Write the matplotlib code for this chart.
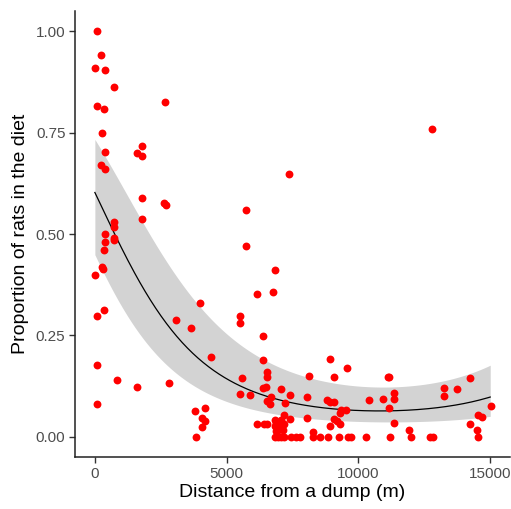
import numpy as np
import matplotlib
matplotlib.use("Agg")
import matplotlib.pyplot as plt

plt.rcParams['font.family'] = ['Liberation Sans', 'DejaVu Sans']

# observed points: distance to dump (m) and proportion of rats in diet
dist = [91, 243, 0, 380, 711, 2678, 76, 331, 281, 1788, 380, 1598, 1803, 228, 380,
        1788, 2625, 2690, 1788, 723, 723, 380, 723, 723, 380, 331, 293, 280, 0, 331,
        91, 3070, 91, 825, 1598, 2815, 91,
        7356, 5744, 5744, 6824, 6139, 6771, 3994, 5504, 5504, 3652, 6379, 4389, 6379,
        6531, 6531, 5591, 6379, 6493, 5504, 5896, 7063, 6683, 6531, 6632, 7215, 7406,
        4184, 3792, 4047, 4184, 4047, 3842, 6139, 6405, 6531, 6874, 7166, 6874, 7063,
        6937, 7166, 6824, 7052, 6847, 7090, 7189, 6961, 7128, 6824, 7052, 7406,
        8915, 9548, 8140, 9068, 11133, 8041, 8825, 8915, 9068, 10384, 10917, 9346,
        9510, 9296, 8041, 9068, 9194, 9308, 8940, 8270, 8293, 7456, 7646, 7786, 8558,
        8840, 9281, 9600, 9700, 10297,
        12807, 11146, 14226, 13252, 13252, 13747, 11350, 11350, 11146, 15013, 14519,
        14671, 11350, 14226, 11906, 14480, 11209, 11982, 12720, 12842, 14519]
prop = [1.00, 0.943, 0.911, 0.905, 0.864, 0.826, 0.816, 0.809, 0.749, 0.718, 0.702, 0.699, 0.692, 0.671, 0.661,
        0.588, 0.576, 0.572, 0.537, 0.529, 0.517, 0.500, 0.491, 0.485, 0.481, 0.461, 0.413, 0.420, 0.398, 0.312,
        0.297, 0.287, 0.176, 0.141, 0.122, 0.132, 0.081,
        0.649, 0.560, 0.471, 0.411, 0.353, 0.357, 0.331, 0.298, 0.280, 0.268, 0.249, 0.198, 0.189,
        0.161, 0.147, 0.145, 0.121, 0.122, 0.106, 0.104, 0.117, 0.097, 0.088, 0.081, 0.083, 0.104,
        0.072, 0.063, 0.047, 0.040, 0.025, 0.0, 0.031, 0.031, 0.031, 0.035, 0.053, 0.015, 0.027,
        0.0, 0.0, 0.042, 0.042, 0.027, 0.027, 0.031, 0.017, 0.017, 0.0, 0.0, 0.044,
        0.192, 0.169, 0.151, 0.148, 0.148, 0.097, 0.090, 0.085, 0.086, 0.091, 0.094, 0.066,
        0.067, 0.059, 0.047, 0.044, 0.039, 0.031, 0.026, 0.012, 0.0, 0.0, 0.0, 0.0, 0.0,
        0.0, 0.0, 0.0, 0.0, 0.0,
        0.760, 0.148, 0.145, 0.121, 0.101, 0.119, 0.107, 0.094, 0.072, 0.075, 0.053,
        0.049, 0.034, 0.031, 0.016, 0.016, 0.0, 0.0, 0.0, 0.0, 0.0]

# fitted curve and confidence band
fit_x = [0, 723, 1993, 3260, 5035, 6177, 7063, 8965, 10232, 10867, 12134, 13403, 15013]
fit_p = [0.605, 0.491, 0.36, 0.237, 0.142, 0.107, 0.093, 0.068, 0.063, 0.062, 0.067, 0.079, 0.097]
upper_x = [0, 1993, 3200, 4526, 5794, 7063, 8330, 9600, 10867, 12134, 13403, 15000]
upper_p = [0.736, 0.512, 0.37, 0.282, 0.224, 0.175, 0.142, 0.126, 0.118, 0.126, 0.146, 0.175]
lower_x = [0, 723, 1864, 3260, 5000, 6300, 8000, 10000, 11500, 13400, 15000]
lower_p = [0.445, 0.365, 0.235, 0.145, 0.09, 0.063, 0.046, 0.038, 0.036, 0.042, 0.05]


def logit(p):
    p = np.asarray(p)
    return np.log(p / (1 - p))


def smooth(xs, ps, grid, deg):
    coef = np.polyfit(np.array(xs) / 1000.0, logit(ps), deg)
    z = np.polyval(coef, grid / 1000.0)
    return 1 / (1 + np.exp(-z))


grid = np.linspace(0, 15000, 300)
fit = smooth(fit_x, fit_p, grid, 2)
up = smooth(upper_x, upper_p, grid, 3)
lo = smooth(lower_x, lower_p, grid, 3)

fig = plt.figure(figsize=(5.11, 5.09), dpi=100)
ax = fig.add_axes([0.147, 0.102, 0.851, 0.876])

ax.fill_between(grid, lo, up, color='#D3D3D3', lw=0, zorder=1)
ax.plot(grid, fit, color='black', lw=0.9, zorder=2)
ax.scatter(dist, prop, s=32, color='red', lw=0, zorder=3)

ax.set_xlim(-750, 15750)
ax.set_ylim(-0.05, 1.05)
ax.set_xticks([0, 5000, 10000, 15000])
ax.set_yticks([0, 0.25, 0.5, 0.75, 1.0])
ax.set_yticklabels(['0.00', '0.25', '0.50', '0.75', '1.00'])

for s in ['top', 'right']:
    ax.spines[s].set_visible(False)
for s in ['left', 'bottom']:
    ax.spines[s].set_color('#222222')
    ax.spines[s].set_linewidth(1.1)
ax.tick_params(colors='#333333', labelcolor='#4D4D4D', labelsize=11, length=4, width=1, pad=3)

ax.set_xlabel('Distance from a dump (m)', fontsize=14, labelpad=2)
ax.set_ylabel('Proportion of rats in the diet', fontsize=14, labelpad=5)

fig.savefig('out.png', dpi=100)
